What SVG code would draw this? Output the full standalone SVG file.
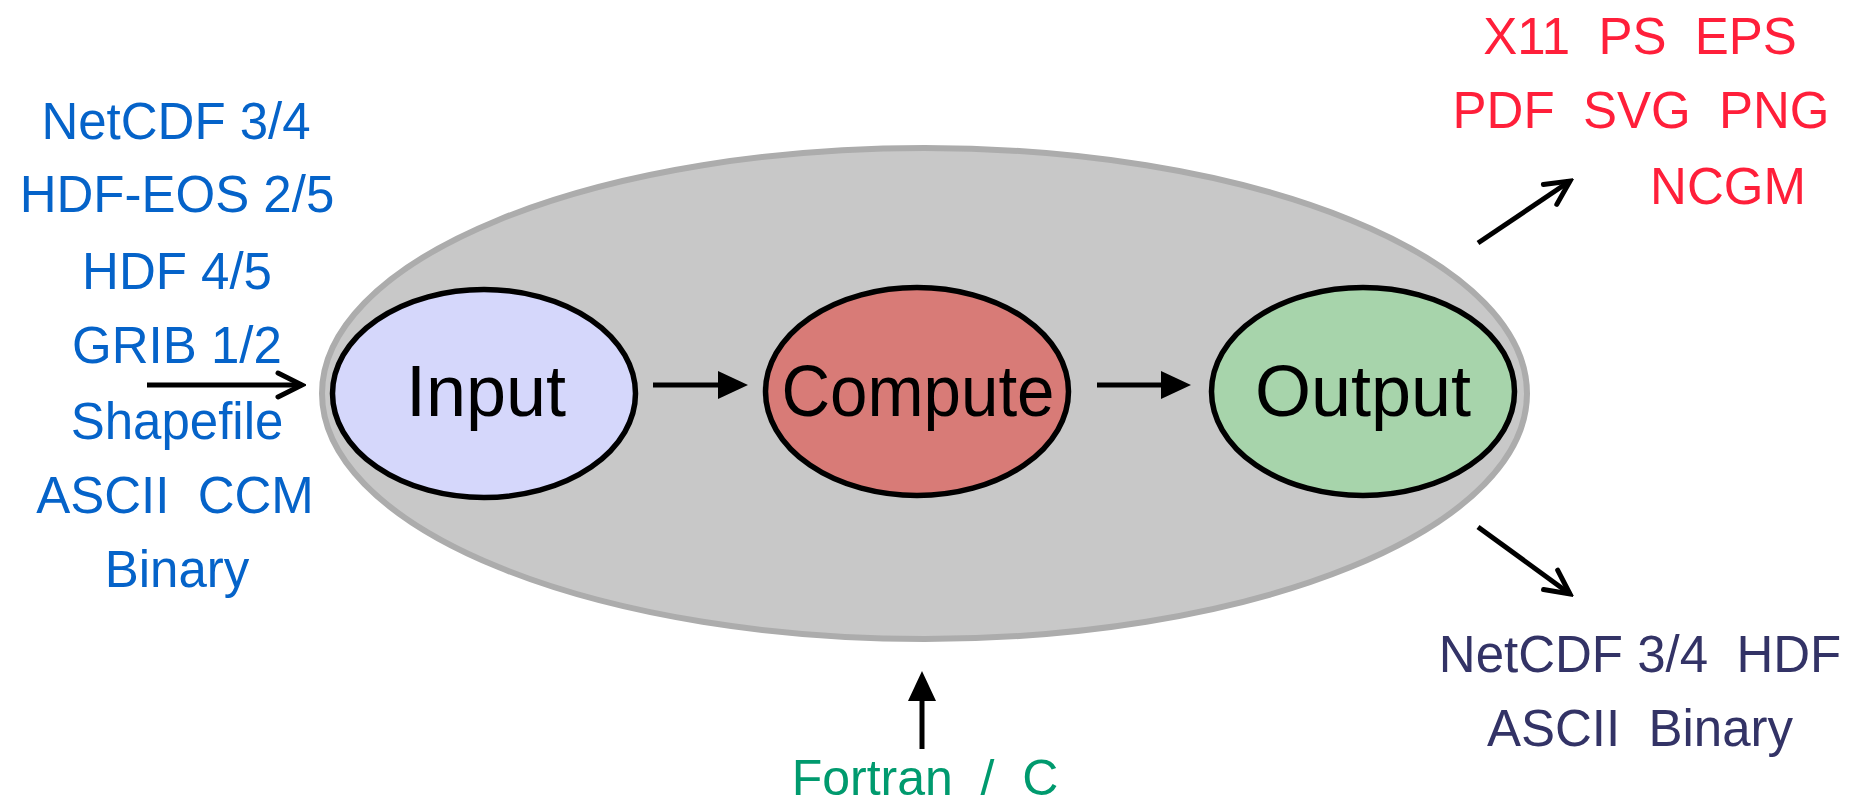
<svg xmlns="http://www.w3.org/2000/svg" width="1849" height="804" viewBox="0 0 1849 804">
<style>
text { font-family: "Liberation Sans", Arial, sans-serif; text-anchor: middle; }
.node { stroke: #000; stroke-width: 5.5; }
.lbl { font-size: 72px; fill: #000; }
.in { font-size: 51px; fill: #0563c9; }
.out1 { font-size: 51px; fill: #ff1f3a; }
.out2 { font-size: 51px; fill: #333366; }
.lang { font-size: 50px; fill: #009a6e; }
.conn { stroke: #000; stroke-width: 5; fill: none; }
</style>
<defs>
<marker id="tri" viewBox="0 0 30 28" markerUnits="userSpaceOnUse" markerWidth="30" markerHeight="28" refX="0" refY="14" orient="auto">
<path d="M0,0 L30,14 L0,28 Z" fill="#000"/>
</marker>
<marker id="chev" viewBox="0 0 32 32" markerUnits="userSpaceOnUse" markerWidth="32" markerHeight="32" refX="28" refY="16" orient="auto">
<path d="M4,4 L28,16 L4,28" fill="none" stroke="#000" stroke-width="5" stroke-linecap="round" stroke-linejoin="miter"/>
</marker>
</defs>
<rect width="1849" height="804" fill="#fff"/>
<g id="system">
<ellipse cx="924.5" cy="393.5" rx="602.5" ry="245.5" fill="#c8c8c8" stroke="#acacac" stroke-width="6"/>
</g>
<g id="input">
<ellipse class="node" cx="484" cy="393.5" rx="151.5" ry="104" fill="#d5d7fb"/>
<text class="lbl" x="486" y="416">Input</text>
</g>
<g id="compute">
<ellipse class="node" cx="917" cy="391.5" rx="151.5" ry="104" fill="#d87b77"/>
<text class="lbl" x="918" y="416" textLength="273" lengthAdjust="spacingAndGlyphs">Compute</text>
</g>
<g id="output">
<ellipse class="node" cx="1363" cy="391.5" rx="151.5" ry="104" fill="#a7d4ab"/>
<text class="lbl" x="1363" y="416">Output</text>
</g>
<g id="input-formats">
<text class="in" x="176" y="139">NetCDF 3/4</text>
<text class="in" x="177" y="212">HDF-EOS 2/5</text>
<text class="in" x="177" y="289">HDF 4/5</text>
<text class="in" x="177" y="363">GRIB 1/2</text>
<text class="in" x="177" y="439">Shapefile</text>
<text class="in" x="175" y="513" xml:space="preserve">ASCII  CCM</text>
<text class="in" x="177" y="587">Binary</text>
</g>
<g id="graphics-formats">
<text class="out1" x="1640" y="54" xml:space="preserve">X11  PS  EPS</text>
<text class="out1" x="1641" y="128" xml:space="preserve">PDF  SVG  PNG</text>
<text class="out1" x="1728" y="204">NCGM</text>
</g>
<g id="data-formats">
<text class="out2" x="1640" y="672" xml:space="preserve">NetCDF 3/4  HDF</text>
<text class="out2" x="1640" y="746" xml:space="preserve">ASCII  Binary</text>
</g>
<g id="languages">
<text class="lang" x="925" y="795" xml:space="preserve">Fortran  /  C</text>
</g>
<g id="connectors">
<line class="conn" x1="147" y1="385" x2="302" y2="385" marker-end="url(#chev)"/>
<line class="conn" x1="653" y1="385" x2="718" y2="385" marker-end="url(#tri)"/>
<line class="conn" x1="1097" y1="385" x2="1161" y2="385" marker-end="url(#tri)"/>
<line class="conn" x1="1478" y1="243" x2="1570" y2="181" marker-end="url(#chev)"/>
<line class="conn" x1="1478" y1="527" x2="1570" y2="594" marker-end="url(#chev)"/>
<line class="conn" x1="922" y1="749" x2="922" y2="701" marker-end="url(#tri)"/>
</g>
</svg>
